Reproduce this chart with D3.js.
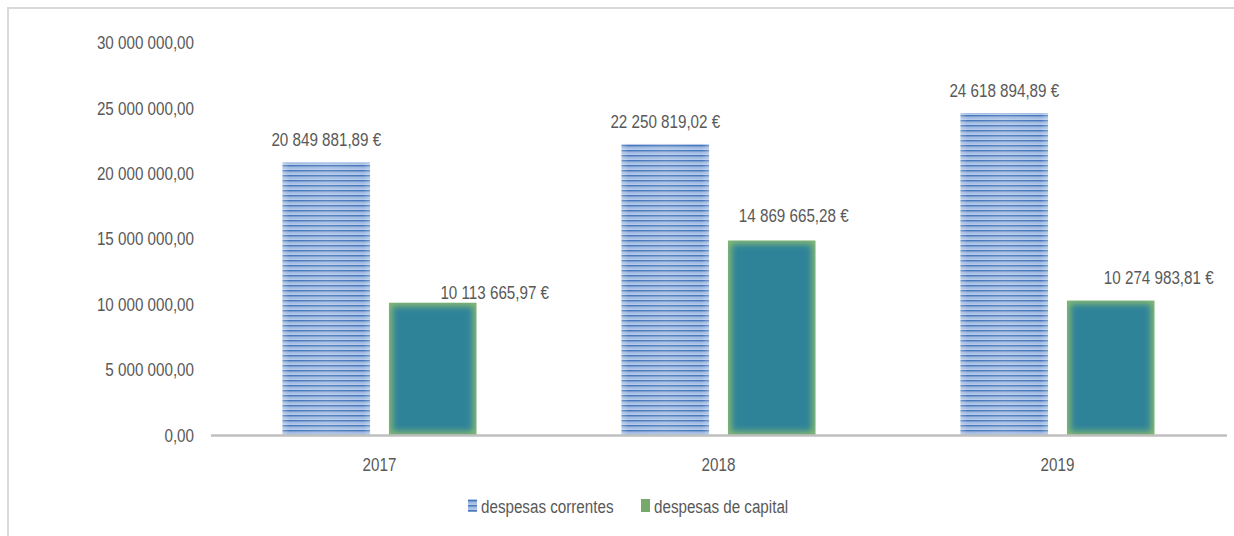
<!DOCTYPE html>
<html>
<head>
<meta charset="utf-8">
<script src="https://cdn.jsdelivr.net/npm/d3@7"></script>
<style>
  html, body { margin: 0; padding: 0; background: #fff; }
  svg { display: block; }
  text { font-family: "Liberation Sans", Arial, sans-serif; fill: #595959; }
</style>
</head>
<body>
<svg id="chart" width="1234" height="536"></svg>
<script>
// ---- data ----
const years = ["2017", "2018", "2019"];
const seriesNames = ["despesas correntes", "despesas de capital"];
const correntes = [20849881.89, 22250819.02, 24618894.89];
const capital = [10113665.97, 14869665.28, 10274983.81];
const yTicks = [0, 5000000, 10000000, 15000000, 20000000, 25000000, 30000000];
// manual label nudges (dx, dy) for the capital labels, as placed in the original
const capitalLabelDx = [62, 22, 48];
const capitalLabelDy = [-10, -25, -23];

// ---- formatting ----
const loc = d3.formatLocale({ decimal: ",", thousands: " ", grouping: [3], currency: ["", " €"] });
const fmtAxis = loc.format(",.2f");
function fmtEuro(v) { return fmtAxis(v) + " €"; }

const FS = 19, SX = 0.8; // font size and horizontal squeeze (narrow font look)

const svg = d3.select("#chart");
const defs = svg.append("defs");

// striped pattern for correntes
const pat = defs.append("pattern")
  .attr("id", "stripes").attr("patternUnits", "userSpaceOnUse")
  .attr("width", 8).attr("height", 5);
pat.append("rect").attr("width", 8).attr("height", 5).attr("fill", "#c3d4ee");
pat.append("rect").attr("y", 0).attr("width", 8).attr("height", 1.6).attr("fill", "#4777ba");
pat.append("rect").attr("y", 1.6).attr("width", 8).attr("height", 0.9).attr("fill", "#7b9fd4");
pat.append("rect").attr("y", 3.4).attr("width", 8).attr("height", 0.9).attr("fill", "#93b2de");

// horizontal highlight gradient overlay
const hg = defs.append("linearGradient").attr("id", "hglow").attr("x1", 0).attr("x2", 1).attr("y1", 0).attr("y2", 0);
hg.append("stop").attr("offset", "0%").attr("stop-color", "#ffffff").attr("stop-opacity", 0.25);
hg.append("stop").attr("offset", "8%").attr("stop-color", "#ffffff").attr("stop-opacity", 0.0);
hg.append("stop").attr("offset", "50%").attr("stop-color", "#ffffff").attr("stop-opacity", 0.1);
hg.append("stop").attr("offset", "92%").attr("stop-color", "#ffffff").attr("stop-opacity", 0.0);
hg.append("stop").attr("offset", "100%").attr("stop-color", "#ffffff").attr("stop-opacity", 0.25);

// soft-edge filter for capital bars
const flt = defs.append("filter").attr("id", "soft").attr("x", "-10%").attr("y", "-10%").attr("width", "120%").attr("height", "120%");
flt.append("feGaussianBlur").attr("stdDeviation", 3);

// ---- layout ----
const plotLeft = 210, plotRight = 1227, plotTop = 42.6, plotBottom = 435;

// outer border
svg.append("path")
  .attr("d", "M8,540 L8,8 L1240,8")
  .attr("fill", "none").attr("stroke", "#d9d9d9").attr("stroke-width", 2);

const y = d3.scaleLinear().domain([0, 30000000]).range([plotBottom, plotTop]);
const x0 = d3.scaleBand().domain(years).range([plotLeft, plotRight]).padding(0);
const groupW = 194;
const x1 = d3.scaleBand().domain(seriesNames).range([0, groupW]).paddingInner(19 / 107).paddingOuter(0);

function label(sel, x, yy, txt, anchor) {
  return sel.append("text")
    .attr("transform", `translate(${x},${yy}) scale(${SX},1)`)
    .attr("dy", "0.35em").attr("text-anchor", anchor || "middle").attr("font-size", FS)
    .text(txt);
}

// y axis labels (no line)
const yAxis = d3.axisLeft(y).tickValues(yTicks).tickFormat(fmtAxis).tickSize(0).tickPadding(0);
const gy = svg.append("g").attr("transform", "translate(194,0)").call(yAxis);
gy.select(".domain").remove();
gy.attr("font-family", null).attr("font-size", null);
gy.selectAll("text").attr("font-size", FS).attr("fill", "#595959")
  .attr("x", 0).attr("transform", `scale(${SX},1)`);

// bars
const groups = svg.append("g").selectAll("g").data(years).join("g")
  .attr("transform", d => `translate(${x0(d) + (x0.bandwidth() - groupW) / 2},0)`);

groups.each(function (yr, i) {
  const g = d3.select(this);
  const bw = x1.bandwidth();
  // correntes
  const xc = x1(seriesNames[0]);
  g.append("rect").attr("x", xc).attr("y", y(correntes[i])).attr("width", bw)
    .attr("height", y(0) - y(correntes[i])).attr("fill", "url(#stripes)");
  g.append("rect").attr("x", xc).attr("y", y(correntes[i])).attr("width", bw)
    .attr("height", y(0) - y(correntes[i])).attr("fill", "url(#hglow)");
  label(g, xc + bw / 2, y(correntes[i]) - 23, fmtEuro(correntes[i]));

  // capital
  const bx = x1(seriesNames[1]), by = y(capital[i]), bh = y(0) - y(capital[i]);
  const cid = "clip" + i;
  defs.append("clipPath").attr("id", cid).append("rect").attr("x", bx).attr("y", by).attr("width", bw).attr("height", bh);
  g.append("rect").attr("x", bx).attr("y", by).attr("width", bw).attr("height", bh).attr("fill", "#86b873");
  g.append("g").attr("clip-path", `url(#${cid})`).append("rect")
    .attr("x", bx + 3.5).attr("y", by + 3.5).attr("width", bw - 7).attr("height", bh - 7)
    .attr("fill", "#2f8399").attr("filter", "url(#soft)");
  label(g, bx + bw / 2 + capitalLabelDx[i], by + capitalLabelDy[i], fmtEuro(capital[i]));
});

// x axis line
svg.append("line").attr("x1", plotLeft + 1).attr("x2", plotRight).attr("y1", plotBottom + 0.5).attr("y2", plotBottom + 0.5)
  .attr("stroke", "#bfbfbf").attr("stroke-width", 2.5);

// x labels
const xAxis = d3.axisBottom(x0).tickSize(0).tickPadding(0);
const gx = svg.append("g").attr("transform", `translate(0,${plotBottom + 29})`).call(xAxis);
gx.select(".domain").remove();
gx.attr("font-family", null).attr("font-size", null);
gx.selectAll("text").attr("font-size", FS).attr("fill", "#595959").attr("y", 0).attr("dy", "0.35em")
  .attr("transform", `scale(${SX},1)`);

// legend
const legX = [468, 641];
seriesNames.forEach((s, i) => {
  const lg = svg.append("g").attr("transform", `translate(${legX[i]},0)`);
  lg.append("rect").attr("x", 0).attr("y", 499).attr("width", 9).attr("height", 13)
    .attr("fill", i === 0 ? "url(#stripes)" : "#77a96a");
  label(lg, 13, 506, s, "start");
});
</script>
</body>
</html>
